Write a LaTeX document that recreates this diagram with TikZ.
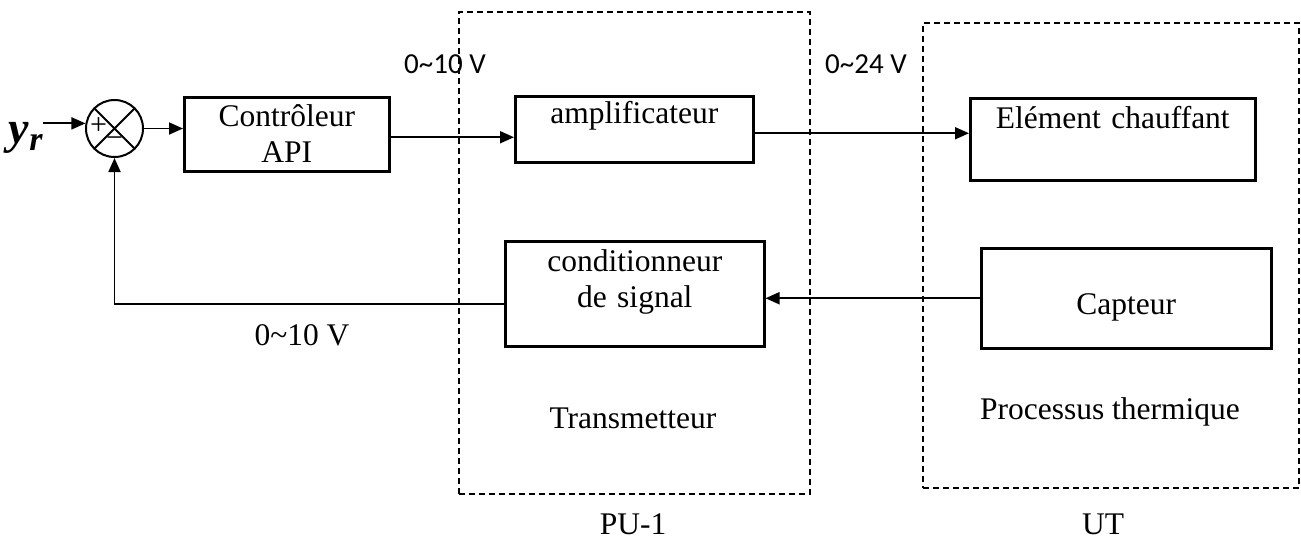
\documentclass[tikz,border=0pt]{standalone}
\usepackage{amsmath}
\usepackage{amssymb}
\usepackage{fontspec}
\setmainfont{Liberation Serif}
\newfontfamily\calib{Carlito}
\usetikzlibrary{positioning,arrows.meta}

\begin{document}
\begin{tikzpicture}[x=1pt, y=-1pt,
  font=\fontsize{31.5}{36}\selectfont,
  blk/.style={draw, line width=2.5pt, inner sep=0pt, align=center, anchor=north west},
  grp/.style={draw, line width=2.4pt, dash pattern=on 6pt off 4pt, inner sep=0pt, anchor=north west},
  sumnode/.style={draw, circle, line width=2pt, minimum size=57pt, inner sep=0pt},
  sign/.style={font=\fontsize{30}{30}\selectfont, inner sep=0pt},
  volt/.style={font=\calib\fontsize{29}{34}\selectfont, anchor=base},
  lbl/.style={anchor=base},
  >={Triangle[length=14pt, width=12pt]}, line width=1.8pt]
\useasboundingbox (0,0) rectangle (1301,544);
\node[grp, minimum width=351pt, minimum height=482pt] (pu) at (458,11) {};
\node[grp, minimum width=376pt, minimum height=465pt] (ut) at (922,22) {};
\node[anchor=base west, font=\fontsize{46}{46}\selectfont\bfseries\itshape, inner sep=0pt] (yr) at (8,143) {y\raisebox{-7pt}{\fontsize{34}{34}\selectfont r}};
\node[sumnode] (sum) at (114.5,128.5) {};
\draw[line width=2pt] (sum.north west) -- (sum.south east) (sum.north east) -- (sum.south west);
\node[sign] (plus) at ([xshift=-16pt, yshift=2pt]sum.center) {+};
\node[sign] (minus) at ([yshift=-14pt]sum.center) {−};
\node[blk, text width=205pt, text height=29pt, text depth=45pt] (ctrl) at (183,96) {Contrôleur\\API};
\node[blk, text width=238pt, text height=27pt, text depth=39pt] (ampli) at (514,95) {amplificateur};
\node[blk, text width=285pt, text height=30pt, text depth=52pt] (elem) at (969,97) {Elément chauffant};
\node[blk, text width=259pt, text height=30pt, text depth=75pt] (cond) at (504,240) {conditionneur\\de signal};
\node[blk, text width=290pt, text height=66pt, text depth=34pt] (capt) at (980,247) {Capteur};
\node[volt] (v1) at (445,73) {0\textasciitilde10 V};
\node[volt] (v2) at (866,73) {0\textasciitilde24 V};
\node[lbl] (v3) at (302,345) {0\textasciitilde10 V};
\node[lbl] (trans) at (633,428) {Transmetteur};
\node[lbl] (proc) at (1110,419) {Processus thermique};
\node[lbl] (pulbl) at (633,534) {PU-1};
\node[lbl] (utlbl) at (1103,534) {UT};
\draw[->] (yr.east |- sum.170) -- (sum.170);
\draw[->] (sum.east) -- (sum.east -| ctrl.west);
\draw[->] ([yshift=-3pt]ctrl.east) -- ([yshift=-3pt]ctrl.east -| ampli.west);
\draw[->] ([yshift=-4pt]ampli.east) -- ([yshift=-4pt]ampli.east -| elem.west);
\draw[->] (capt.west) -- (capt.west -| cond.east);
\draw[->] ([yshift=-10.5pt]cond.west) -| (sum.south);
\end{tikzpicture}
\end{document}
